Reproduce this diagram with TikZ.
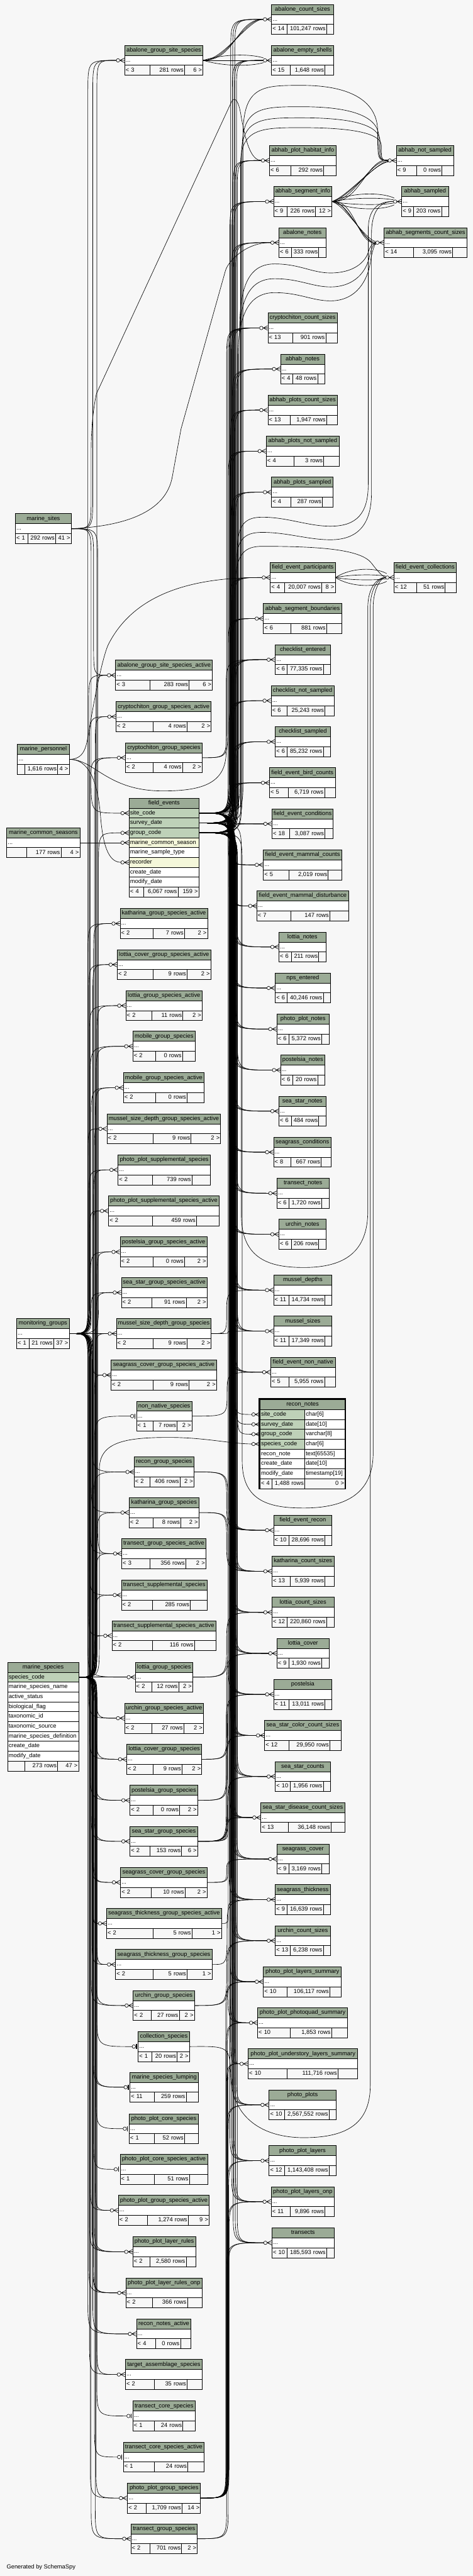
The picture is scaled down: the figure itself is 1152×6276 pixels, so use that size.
\documentclass[tikz,border=0pt]{standalone}
\usepackage{fontspec}
\setmainfont{Liberation Sans}
\usetikzlibrary{calc}
\definecolor{bgc}{HTML}{F7F7F7}
\definecolor{hdrc}{HTML}{9BAB96}
\definecolor{pkc}{HTML}{BED1B8}
\definecolor{idxc}{HTML}{F4F7DA}
\pgfdeclarelayer{bglayer}
\pgfdeclarelayer{edgelayer}
\pgfsetlayers{bglayer,edgelayer,main}
\newcommand\tfont{\fontsize{14.3pt}{17pt}\selectfont}
\tikzset{
  hdr/.style={draw=black, line width=1.2pt, fill=hdrc, minimum height=24.5pt, inner sep=0pt, anchor=north west, font=\tfont, text height=10.5pt, text depth=3.5pt},
  rowc/.style={draw=black, line width=1.2pt, fill=white, minimum height=24pt, inner xsep=2.5pt, inner ysep=0pt, anchor=north west, align=left, font=\tfont, text height=10.5pt, text depth=3.5pt},
  fcell/.style={draw=black, line width=1.2pt, fill=bgc, minimum height=24.5pt, inner xsep=2.5pt, inner ysep=0pt, anchor=north west, font=\tfont, text height=10.5pt, text depth=3.5pt},
  fkl/.style={draw=black, line width=1pt, shorten >=19.5pt},
  fklo/.style={draw=black, line width=1pt, shorten >=14pt},
  mk/.style={draw=black, line width=1pt},
}
\newcommand\tbl[5]{%
  \def\cid{#1}\def\cx{#2}\def\cy{#3}\def\cw{#4}%
  \pgfmathsetmacro\fy{#3+48.5}%
  \pgfmathsetmacro\tw{#4-5}%
  \node[hdr, minimum width=#4pt] (#1-h) at (#2,#3) {#5};
  \node[rowc, text width=\tw pt] (#1) at (#2,#3+24.5) {...};
}
\newcommand\tft[5]{%
  \pgfmathsetmacro\wa{#1-\cx-5}\pgfmathsetmacro\wb{#2-#1-5}\pgfmathsetmacro\wc{\cx+\cw-#2-5}%
  \node[fcell, text width=\wa pt, align=left] (\cid-f1) at (\cx,\fy) {#3};
  \node[fcell, text width=\wb pt, align=right] (\cid-f2) at (#1,\fy) {#4};
  \node[fcell, text width=\wc pt, align=right] (\cid-f3) at (#2,\fy) {#5};
}
\newcommand\colrow[6]{%
  \pgfmathsetmacro\tw{#4-5}%
  \node[rowc, fill=#5, text width=\tw pt] (#1) at (#2,#3) {#6};
}
\newcommand\fkey[4][fkl]{%
  \pgfmathsetmacro\chx{#4}%
  \draw[#1] let \p1=(#2), \p2=(#3),
     \n1={ifthenelse((\y2)>(\y1),1,-1)}, \n2={min(abs((\y2)-(\y1))/2,80)} in
     (\p1) .. controls (\chx pt,\y1) .. (\chx pt,{(\y1)+(\n1)*(\n2)})
     -- (\chx pt,{(\y2)-(\n1)*(\n2)}) .. controls (\chx pt,\y2) .. (\p2);%
}
\newcommand\crowmk[1]{%
  \draw[mk] ([xshift=-11pt]#1) -- ([yshift=5.5pt]#1) ([xshift=-11pt]#1) -- (#1) ([xshift=-11pt]#1) -- ([yshift=-5.5pt]#1);
  \draw[mk, fill=white] ([xshift=-15.5pt]#1) circle[radius=4.2pt];}
\newcommand\barmk[1]{%
  \draw[mk, line width=2pt] ([xshift=-3.5pt,yshift=-6pt]#1) -- ([xshift=-3.5pt,yshift=6pt]#1);
  \draw[mk, fill=white] ([xshift=-10pt]#1) circle[radius=4.2pt];}
\begin{document}
\begin{tikzpicture}[x=1pt,y=-1pt]
\useasboundingbox (0,0) rectangle (1152,6276);
\begin{pgfonlayer}{bglayer}\fill[bgc] (0,0) rectangle (1152,6276);\end{pgfonlayer}
% ---------- right column
\tbl{acs}{661}{10}{151}{abalone\_count\_sizes}\tft{699}{795}{< 14}{101,247 rows}{}
\tbl{aes}{661}{110}{151}{abalone\_empty\_shells}\tft{707}{791}{< 15}{1,648 rows}{}
\tbl{aphi}{656}{354}{162}{abhab\_plot\_habitat\_info}\tft{708}{788}{< 6}{292 rows}{}
\tbl{asi}{666}{454}{142}{abhab\_segment\_info}\tft{699}{768}{< 9}{226 rows}{12 >}
\tbl{an}{679}{554}{114}{abalone\_notes}\tft{709}{776}{< 6}{333 rows}{}
\tbl{ccs}{652}{762}{169}{cryptochiton\_count\_sizes}\tft{713}{793}{< 13}{901 rows}{}
\tbl{ahn}{683}{862}{107}{abhab\_notes}\tft{713}{773}{< 4}{48 rows}{}
\tbl{apcs}{652}{962}{169}{abhab\_plots\_count\_sizes}\tft{707}{795}{< 13}{1,947 rows}{}
\tbl{apns}{648}{1062}{178}{abhab\_plots\_not\_sampled}\tft{716}{788}{< 4}{3 rows}{}
\tbl{aps}{661}{1162}{150}{abhab\_plots\_sampled}\tft{708}{785}{< 4}{287 rows}{}
\tbl{fep}{658}{1370}{158}{field\_event\_participants}\tft{692}{783}{< 4}{20,007 rows}{8 >}
\tbl{asb}{641}{1470}{191}{abhab\_segment\_boundaries}\tft{708}{795}{< 6}{881 rows}{}
\tbl{ce}{670}{1570}{134}{checklist\_entered}\tft{699}{787}{< 6}{77,335 rows}{}
\tbl{cns}{660}{1670}{153}{checklist\_not\_sampled}\tft{699}{791}{< 6}{25,243 rows}{}
\tbl{cs}{670}{1770}{134}{checklist\_sampled}\tft{699}{787}{< 6}{85,232 rows}{}
\tbl{febc}{656}{1870}{160}{field\_event\_bird\_counts}\tft{702}{790}{< 5}{6,719 rows}{}
\tbl{fec}{662}{1970}{149}{field\_event\_conditions}\tft{705}{791}{< 18}{3,087 rows}{}
\tbl{femc}{641}{2070}{191}{field\_event\_mammal\_counts}\tft{703}{799}{< 5}{2,019 rows}{}
\tbl{femd}{625}{2170}{224}{field\_event\_mammal\_disturbance}\tft{708}{803}{< 7}{147 rows}{}
\tbl{ln}{679}{2270}{114}{lottia\_notes}\tft{709}{776}{< 6}{211 rows}{}
\tbl{npse}{670}{2370}{134}{nps\_entered}\tft{699}{787}{< 6}{40,246 rows}{}
\tbl{ppn}{674}{2470}{127}{photo\_plot\_notes}\tft{704}{783}{< 6}{5,372 rows}{}
\tbl{pn}{683}{2570}{108}{postelsia\_notes}\tft{713}{773}{< 6}{20 rows}{}
\tbl{ssn}{679}{2670}{114}{sea\_star\_notes}\tft{709}{776}{< 6}{484 rows}{}
\tbl{sgc}{666}{2770}{140}{seagrass\_conditions}\tft{708}{782}{< 8}{667 rows}{}
\tbl{tn}{674}{2870}{127}{transect\_notes}\tft{704}{783}{< 6}{1,720 rows}{}
\tbl{un}{679}{2970}{114}{urchin\_notes}\tft{709}{776}{< 6}{206 rows}{}
\tbl{md}{666}{3106}{142}{mussel\_depths}\tft{703}{791}{< 11}{14,734 rows}{}
\tbl{msz}{666}{3206}{142}{mussel\_sizes}\tft{703}{791}{< 11}{17,349 rows}{}
\tbl{fenn}{659}{3306}{157}{field\_event\_non\_native}\tft{703}{790}{< 5}{5,955 rows}{}
\tbl{fer}{666}{3691}{142}{field\_event\_recon}\tft{703}{791}{< 10}{28,696 rows}{}
\tbl{kcs}{662}{3791}{151}{katharina\_count\_sizes}\tft{707}{791}{< 13}{5,939 rows}{}
\tbl{lcs}{662}{3891}{151}{lottia\_count\_sizes}\tft{699}{795}{< 12}{220,860 rows}{}
\tbl{lc}{674}{3991}{127}{lottia\_cover}\tft{704}{783}{< 9}{1,930 rows}{}
\tbl{pst}{666}{4091}{142}{postelsia}\tft{703}{791}{< 11}{13,011 rows}{}
\tbl{sscc}{644}{4191}{186}{sea\_star\_color\_count\_sizes}\tft{703}{803}{< 12}{29,950 rows}{}
\tbl{ssc}{670}{4291}{134}{sea\_star\_counts}\tft{707}{787}{< 10}{1,956 rows}{}
\tbl{ssdc}{635}{4391}{204}{sea\_star\_disease\_count\_sizes}\tft{702}{806}{< 13}{36,148 rows}{}
\tbl{sgcv}{674}{4492}{127}{seagrass\_cover}\tft{703}{783}{< 9}{3,169 rows}{}
\tbl{sgt}{670}{4591}{134}{seagrass\_thickness}\tft{699}{787}{< 9}{16,639 rows}{}
\tbl{ucs}{670}{4691}{134}{urchin\_count\_sizes}\tft{707}{787}{< 13}{6,238 rows}{}
\tbl{ppls}{641}{4791}{190}{photo\_plot\_layers\_summary}\tft{698}{803}{< 10}{106,117 rows}{}
\tbl{pppq}{627}{4891}{219}{photo\_plot\_photoquad\_summary}\tft{706}{807}{< 10}{1,853 rows}{}
\tbl{ppul}{604}{4991}{267}{photo\_plot\_understory\_layers\_summary}\tft{699}{823}{< 10}{111,716 rows}{}
\tbl{pp}{655}{5091}{163}{photo\_plots}\tft{693}{801}{< 10}{2,567,552 rows}{}
\tbl{ppl}{655}{5227}{163}{photo\_plot\_layers}\tft{693}{801}{< 12}{1,143,408 rows}{}
\tbl{pplo}{660}{5327}{154}{photo\_plot\_layers\_onp}\tft{707}{791}{< 11}{9,896 rows}{}
\tbl{tr}{662}{5427}{151}{transects}\tft{699}{795}{< 10}{185,593 rows}{}
% ---------- far right
\tbl{ans}{965}{354}{139}{abhab\_not\_sampled}\tft{1015}{1076}{< 9}{0 rows}{}
\tbl{asmp}{978}{454}{114}{abhab\_sampled}\tft{1007}{1075}{< 9}{203 rows}{}
\tbl{ascs}{935}{554}{202}{abhab\_segments\_count\_sizes}\tft{1006}{1102}{< 14}{3,095 rows}{}
\tbl{fecl}{959}{1370}{152}{field\_event\_collections}\tft{1015}{1084}{< 12}{51 rows}{}
% ---------- middle column
\tbl{ags}{303}{110}{191}{abalone\_group\_site\_species}\tft{365}{449}{< 3}{281 rows}{6 >}
\tbl{agsa}{281}{1608}{236}{abalone\_group\_site\_species\_active}\tft{365}{460}{< 3}{283 rows}{6 >}
\tbl{cgsa}{282}{1709}{232}{cryptochiton\_group\_species\_active}\tft{372}{455}{< 2}{4 rows}{2 >}
\tbl{cgs}{305}{1809}{187}{cryptochiton\_group\_species}\tft{372}{444}{< 2}{4 rows}{2 >}
\tbl{kgsa}{292}{2213}{213}{katharina\_group\_species\_active}\tft{372}{449}{< 2}{7 rows}{2 >}
\tbl{lcgsa}{285}{2313}{228}{lottia\_cover\_group\_species\_active}\tft{373}{455}{< 2}{9 rows}{2 >}
\tbl{lgsa}{306}{2413}{186}{lottia\_group\_species\_active}\tft{370}{445}{< 2}{11 rows}{2 >}
\tbl{mgs}{323}{2512}{152}{mobile\_group\_species}\tft{378}{444}{< 2}{0 rows}{}
\tbl{mgsa}{300}{2613}{197}{mobile\_group\_species\_active}\tft{378}{455}{< 2}{0 rows}{}
\tbl{msdgsa}{260}{2713}{277}{mussel\_size\_depth\_group\_species\_active}\tft{372}{465}{< 2}{9 rows}{2 >}
\tbl{ppss}{287}{2813}{225}{photo\_plot\_supplemental\_species}\tft{371}{467}{< 2}{739 rows}{}
\tbl{ppssa}{264}{2913}{269}{photo\_plot\_supplemental\_species\_active}\tft{371}{478}{< 2}{459 rows}{}
\tbl{pgsa}{292}{3013}{212}{postelsia\_group\_species\_active}\tft{372}{449}{< 2}{0 rows}{2 >}
\tbl{ssgsa}{295}{3112}{209}{sea\_star\_group\_species\_active}\tft{370}{453}{< 2}{91 rows}{2 >}
\tbl{msdgs}{283}{3212}{231}{mussel\_size\_depth\_group\_species}\tft{372}{455}{< 2}{9 rows}{2 >}
\tbl{sgcgsa}{270}{3313}{257}{seagrass\_cover\_group\_species\_active}\tft{372}{460}{< 2}{9 rows}{2 >}
\tbl{nns}{332}{3413}{135}{non\_native\_species}\tft{373}{431}{< 1}{7 rows}{2 >}
\tbl{rgs}{326}{3549}{146}{recon\_group\_species}\tft{364}{438}{< 2}{406 rows}{2 >}
\tbl{kgs}{314}{3648}{170}{katharina\_group\_species}\tft{373}{440}{< 2}{8 rows}{2 >}
\tbl{tgsa}{296}{3748}{205}{transect\_group\_species\_active}\tft{364}{452}{< 3}{356 rows}{2 >}
\tbl{tss}{295}{3849}{209}{transect\_supplemental\_species}\tft{371}{463}{< 2}{285 rows}{}
\tbl{tssa}{272}{3948}{253}{transect\_supplemental\_species\_active}\tft{371}{473}{< 2}{116 rows}{}
\tbl{lgs}{329}{4049}{140}{lottia\_group\_species}\tft{370}{435}{< 2}{12 rows}{2 >}
\tbl{ugsa}{303}{4149}{192}{urchin\_group\_species\_active}\tft{370}{447}{< 2}{27 rows}{2 >}
\tbl{lcgs}{308}{4249}{183}{lottia\_cover\_group\_species}\tft{373}{443}{< 2}{9 rows}{2 >}
\tbl{pgs}{316}{4349}{165}{postelsia\_group\_species}\tft{372}{437}{< 2}{0 rows}{2 >}
\tbl{ssgs}{316}{4449}{165}{sea\_star\_group\_species}\tft{364}{442}{< 2}{153 rows}{6 >}
\tbl{sgcgs}{293}{4549}{211}{seagrass\_cover\_group\_species}\tft{368}{450}{< 2}{10 rows}{2 >}
\tbl{sgtgsa}{259}{4649}{280}{seagrass\_thickness\_group\_species\_active}\tft{372}{467}{< 2}{5 rows}{1 >}
\tbl{sgtgs}{281}{4749}{235}{seagrass\_thickness\_group\_species}\tft{372}{455}{< 2}{5 rows}{1 >}
\tbl{ugs}{324}{4849}{149}{urchin\_group\_species}\tft{368}{436}{< 2}{27 rows}{2 >}
\tbl{csp}{336}{4949}{125}{collection\_species}\tft{370}{431}{< 1}{20 rows}{2 >}
\tbl{msl}{316}{5048}{167}{marine\_species\_lumping}\tft{375}{453}{< 11}{259 rows}{}
\tbl{ppcs}{314}{5149}{169}{photo\_plot\_core\_species}\tft{375}{449}{< 1}{52 rows}{}
\tbl{ppcsa}{292}{5248}{213}{photo\_plot\_core\_species\_active}\tft{375}{461}{< 1}{51 rows}{}
\tbl{ppgsa}{288}{5348}{221}{photo\_plot\_group\_species\_active}\tft{359}{458}{< 2}{1,274 rows}{9 >}
\tbl{pplr}{323}{5449}{153}{photo\_plot\_layer\_rules}\tft{365}{453}{< 2}{2,580 rows}{}
\tbl{pplro}{306}{5549}{186}{photo\_plot\_layer\_rules\_onp}\tft{371}{456}{< 2}{366 rows}{}
\tbl{rna}{332}{5649}{133}{recon\_notes\_active}\tft{378}{439}{< 4}{0 rows}{}
\tbl{tas}{305}{5748}{187}{target\_assemblage\_species}\tft{375}{455}{< 2}{35 rows}{}
\tbl{tcs}{323}{5849}{152}{transect\_core\_species}\tft{375}{445}{< 1}{24 rows}{}
\tbl{tcsa}{300}{5949}{197}{transect\_core\_species\_active}\tft{375}{457}{< 1}{24 rows}{}
\tbl{ppgs}{310}{6049}{178}{photo\_plot\_group\_species}\tft{355}{443}{< 2}{1,709 rows}{14 >}
\tbl{tgs}{318}{6148}{162}{transect\_group\_species}\tft{365}{442}{< 2}{701 rows}{2 >}
% ---------- left column
\tbl{msite}{37}{1251}{136}{marine\_sites}\tft{67}{135}{< 1}{292 rows}{41 >}
\tbl{mper}{42}{1813}{126}{marine\_personnel}\tft{59}{140}{}{1,616 rows}{4 >}
\tbl{mcs}{16}{2016}{178}{marine\_common\_seasons}\tft{65}{148}{}{177 rows}{4 >}
\tbl{mg}{40}{3212}{128}{monitoring\_groups}\tft{70}{130}{< 1}{21 rows}{37 >}
% field_events
\node[hdr, minimum width=170pt] (fe-h) at (314,1944) {field\_events};
\colrow{fe-site}{314}{1968.5}{170}{pkc}{site\_code}
\colrow{fe-date}{314}{1992.5}{170}{pkc}{survey\_date}
\colrow{fe-group}{314}{2016.5}{170}{pkc}{group\_code}
\colrow{fe-season}{314}{2040.5}{170}{idxc}{marine\_common\_season}
\colrow{fe-type}{314}{2064.5}{170}{white}{marine\_sample\_type}
\colrow{fe-rec}{314}{2088.5}{170}{idxc}{recorder}
\colrow{fe-cdate}{314}{2112.5}{170}{white}{create\_date}
\colrow{fe-mdate}{314}{2136.5}{170}{white}{modify\_date}
\def\cid{fe}\def\cx{314}\def\cw{170}\def\fy{2160.5}
\tft{350}{433}{< 4}{6,067 rows}{159 >}
% marine_species
\node[hdr, minimum width=173pt] (ms-h) at (18,4049) {marine\_species};
\colrow{ms-code}{18}{4073.5}{173}{pkc}{species\_code}
\colrow{ms-name}{18}{4097.5}{173}{white}{marine\_species\_name}
\colrow{ms-active}{18}{4121.5}{173}{white}{active\_status}
\colrow{ms-bio}{18}{4145.5}{173}{white}{biological\_flag}
\colrow{ms-taxid}{18}{4169.5}{173}{white}{taxonomic\_id}
\colrow{ms-taxsrc}{18}{4193.5}{173}{white}{taxonomic\_source}
\colrow{ms-def}{18}{4217.5}{173}{white}{marine\_species\_definition}
\colrow{ms-cdate}{18}{4241.5}{173}{white}{create\_date}
\colrow{ms-mdate}{18}{4265.5}{173}{white}{modify\_date}
\def\cid{ms}\def\cx{18}\def\cw{173}\def\fy{4289.5}
\tft{60}{140}{}{273 rows}{47 >}
% recon_notes
\node[hdr, minimum width=207pt] (rn-h) at (633,3409) {recon\_notes};
\colrow{rn-site}{633}{3433.5}{109}{pkc}{site\_code}\colrow{rn-site-t}{742}{3433.5}{98}{white}{char[6]}
\colrow{rn-date}{633}{3457.5}{109}{pkc}{survey\_date}\colrow{rn-date-t}{742}{3457.5}{98}{white}{date[10]}
\colrow{rn-group}{633}{3481.5}{109}{pkc}{group\_code}\colrow{rn-group-t}{742}{3481.5}{98}{white}{varchar[8]}
\colrow{rn-species}{633}{3505.5}{109}{pkc}{species\_code}\colrow{rn-species-t}{742}{3505.5}{98}{white}{char[6]}
\colrow{rn-note}{633}{3529.5}{109}{white}{recon\_note}\colrow{rn-note-t}{742}{3529.5}{98}{white}{text[65535]}
\colrow{rn-cdate}{633}{3553.5}{109}{white}{create\_date}\colrow{rn-cdate-t}{742}{3553.5}{98}{white}{date[10]}
\colrow{rn-mdate}{633}{3577.5}{109}{white}{modify\_date}\colrow{rn-mdate-t}{742}{3577.5}{98}{white}{timestamp[19]}
\def\cid{rn}\def\cx{633}\def\cw{207}\def\fy{3601.5}
\tft{662}{742}{< 4}{1,488 rows}{0 >}
\draw[line width=3pt] (631.5,3407.5) rectangle (841.5,3627.5);
% ================= edges
\begin{pgfonlayer}{edgelayer}
\foreach \kid/\kx in {acs/562,aes/566,aphi/568,asi/560,an/564,ccs/558,ahn/566,apcs/562,apns/556,aps/564,fep/560,asb/556,ce/564,cns/558,cs/566,febc/560,fec/562,femc/556,femd/558,ln/566,npse/560,ppn/564,pn/568,ssn/562,sgc/558,tn/566,un/560,md/564,msz/568,fenn/562,fer/558,kcs/566,lcs/560,lc/564,pst/556,sscc/562,ssc/568,ssdc/560,sgcv/566,sgt/558,ucs/564,ppls/560,pppq/556,ppul/562,pp/566,ppl/560,pplo/564,tr/568}{%
  \fkey{fe-site.east}{\kid.west}{\kx}%
  \fkey{fe-date.east}{\kid.west}{\kx+5}%
  \fkey{fe-group.east}{\kid.west}{\kx+10}%
}
\fkey{fe-site.east}{rn-site.west}{570}
\fkey{fe-date.east}{rn-date.west}{574}
\fkey{fe-group.east}{rn-group.west}{578}
\foreach \kid/\kx in {ags/214,agsa/216,cgsa/218,cgs/220,kgsa/214,lcgsa/216,lgsa/218,mgs/220,mgsa/222,msdgsa/214,ppss/216,ppssa/218,pgsa/220,ssgsa/222,msdgs/224,sgcgsa/226,rgs/224,kgs/222,tgsa/220,tss/218,tssa/216,lgs/214,ugsa/216,lcgs/218,pgs/220,ssgs/222,sgcgs/224,sgtgsa/226,sgtgs/224,ugs/222,ppgsa/220,pplr/218,pplro/216,rna/214,tas/218,ppgs/220,tgs/222,fe-group/240}{%
  \fkey{mg.east}{\kid.west}{\kx}}
\foreach \kid/\kx in {ags/236,agsa/234,cgsa/232,cgs/230,kgsa/228,lcgsa/226,lgsa/236,mgs/234,mgsa/232,msdgsa/230,ppss/228,ppssa/226,pgsa/236,ssgsa/234,msdgs/232,sgcgsa/230,rgs/228,kgs/236,tgsa/234,tss/232,tssa/230,lgs/228,ugsa/236,lcgs/234,pgs/232,ssgs/230,sgcgs/228,sgtgsa/226,sgtgs/236,ugs/234,ppgsa/232,pplr/230,pplro/228,rna/226,tas/236,ppgs/234,tgs/232,pplr/224,pplro/226}{%
  \fkey{ms-code.east}{\kid.west}{\kx}}
\foreach \kid/\kx in {nns/230,csp/236,msl/232,msl/228,ppcs/234,ppcsa/228,tcs/236,tcsa/230}{%
  \fkey[fklo]{ms-code.east}{\kid.west}{\kx}}
\foreach \kid/\kx in {ags/226,agsa/228,tgsa/238,fe-site/222}{%
  \fkey{msite.east}{\kid.west}{\kx}}
\foreach \pa/\kid/\kx in {cgs/ccs/552,cgs/ccs/555,kgs/kcs/552,kgs/kcs/555,lgs/lcs/552,lgs/lcs/555,lcgs/lc/552,lcgs/lc/555,pgs/pst/551,pgs/pst/554,ssgs/sscc/551,ssgs/sscc/553,ssgs/ssc/554,ssgs/ssc/556,ssgs/ssdc/552,ssgs/ssdc/555,sgcgs/sgcv/552,sgcgs/sgcv/555,sgtgs/sgt/553,sgtgsa/sgt/556,ugs/ucs/552,ugs/ucs/555,ppgs/ppls/550,ppgs/ppls/553,ppgs/pppq/551,ppgs/pppq/554,ppgs/ppul/552,ppgs/ppul/555,ppgs/pp/553,ppgs/pp/556,ppgs/ppl/554,ppgs/ppl/557,ppgs/pplo/555,ppgs/pplo/558,tgs/tr/552,tgs/tr/556,msdgs/md/552,msdgs/msz/555,nns/fenn/553,rgs/fer/552,rgs/fer/555}{%
  \fkey{\pa.east}{\kid.west}{\kx}}
% abalone group site species
\draw[fkl] (ags.east) .. controls (560,146.5) and (590,46.5) .. (acs.west);
\draw[fkl] (ags.east) .. controls (545,146.5) and (605,46.5) .. (acs.west);
\draw[fkl] (ags.east) .. controls (575,146.5) and (575,46.5) .. (acs.west);
\draw[fkl] (ags.east) -- (aes.west);
\draw[fkl] (ags.east) .. controls (545,131) and (610,131) .. (aes.west);
\draw[fkl] (ags.east) .. controls (545,162) and (610,162) .. (aes.west);
% abhab segment info
\draw[fkl] (asi.east) .. controls (855,468) and (930,468) .. (asmp.west);
\draw[fkl] (asi.east) .. controls (855,481) and (930,481) .. (asmp.west);
\draw[fkl] (asi.east) .. controls (855,500) and (930,500) .. (asmp.west);
\draw[fkl] (asi.east) .. controls (855,513) and (930,513) .. (asmp.west);
\draw[fkl] (asi.east) .. controls (860,490.5) and (900,390.5) .. (ans.west);
\draw[fkl] (asi.east) .. controls (845,485) and (915,395) .. (ans.west);
\draw[fkl] (asi.east) .. controls (875,495) and (895,385) .. (ans.west);
\draw[fkl] (asi.east) .. controls (850,475) and (910,400) .. (ans.west);
\draw[fkl] (asi.east) .. controls (850,490.5) and (880,590.5) .. (ascs.west);
\draw[fkl] (asi.east) .. controls (840,500) and (890,585) .. (ascs.west);
\draw[fkl] (asi.east) .. controls (865,485) and (870,595) .. (ascs.west);
\draw[fkl] (asi.east) .. controls (835,480) and (895,600) .. (ascs.west);
% participants -> collections
\draw[fkl] (fep.east) .. controls (855,1382) and (915,1382) .. (fecl.west);
\draw[fkl] (fep.east) .. controls (855,1399) and (915,1399) .. (fecl.west);
\draw[fkl] (fep.east) .. controls (855,1414) and (915,1414) .. (fecl.west);
\draw[fkl] (fep.east) .. controls (855,1431) and (915,1431) .. (fecl.west);
% arcs over the top to abhab_not_sampled
\draw[fkl] (fe-site.east) .. controls (592,1980.5) .. (592,1900) -- (592,330) .. controls (592,208) and (640,208) .. (735,208) .. controls (860,208) and (920,250) .. (920,320) .. controls (920,390.5) .. (ans.west);
\draw[fkl] (fe-date.east) .. controls (590,2004.5) .. (590,1925) -- (590,360) .. controls (590,260) and (640,260) .. (735,260) .. controls (860,260) and (923,285) .. (923,335) .. controls (923,390.5) .. (ans.west);
\draw[fkl] (fe-group.east) .. controls (588,2028.5) .. (588,1950) -- (588,380) .. controls (588,287) and (640,287) .. (735,287) .. controls (860,287) and (926,305) .. (926,345) .. controls (926,390.5) .. (ans.west);
\draw[fkl] (fe-group.east) .. controls (586,2028.5) .. (586,1950) -- (586,400) .. controls (586,311) and (640,311) .. (735,311) .. controls (860,311) and (929,325) .. (929,355) .. controls (929,390.5) .. (ans.west);
% wavy curves to abhab_segments_count_sizes
\draw[fkl] (fe-site.east) .. controls (584,1980.5) .. (584,1900) -- (584,800) .. controls (584,690) and (610,643) .. (669,643) .. controls (730,643) and (760,665) .. (805,665) .. controls (860,665) and (890,640) .. (898,612) .. controls (903,596) and (912,590.5) .. (ascs.west);
\draw[fkl] (fe-date.east) .. controls (582,2004.5) .. (582,1925) -- (582,840) .. controls (582,725) and (610,679) .. (669,679) .. controls (730,679) and (760,699) .. (805,699) .. controls (865,699) and (893,660) .. (900,625) .. controls (905,600) and (914,590.5) .. (ascs.west);
\draw[fkl] (fe-group.east) .. controls (580,2028.5) .. (580,1950) -- (580,870) .. controls (580,760) and (610,713) .. (669,713) .. controls (730,713) and (760,733) .. (805,733) .. controls (870,733) and (896,680) .. (902,640) .. controls (907,605) and (916,590.5) .. (ascs.west);
% wavy curves to abhab_sampled
\draw[fkl] (fe-date.east) .. controls (578,2004.5) .. (578,1925) -- (578,1340) .. controls (578,1275) and (600,1260) .. (639,1260) .. controls (700,1260) and (750,1282) .. (805,1282) .. controls (870,1282) and (897,1250) .. (897,1180) -- (897,560) .. controls (897,510) and (920,490.5) .. (asmp.west);
\draw[fkl] (fe-group.east) .. controls (576,2028.5) .. (576,1950) -- (576,1370) .. controls (576,1310) and (600,1297) .. (639,1297) .. controls (700,1297) and (750,1315) .. (805,1315) .. controls (870,1315) and (905,1280) .. (905,1200) -- (905,570) .. controls (905,515) and (925,490.5) .. (asmp.west);
% field_event_collections
\draw[fkl] (fe-site.east) .. controls (574,1980.5) .. (574,1900) -- (574,1420) .. controls (574,1345) and (600,1331) .. (639,1331) .. controls (790,1331) and (880,1340) .. (905,1372) .. controls (922,1395) and (935,1406.5) .. (fecl.west);
\draw[fkl] (fe-date.east) .. controls (588,2004.5) .. (588,2085) -- (588,2960) .. controls (588,3070) and (660,3088) .. (740,3088) .. controls (840,3088) and (896,3050) .. (896,2950) -- (896,1480) .. controls (896,1430) and (920,1406.5) .. (fecl.west);
\draw[fkl] (fe-group.east) .. controls (590,2028.5) .. (590,2110) -- (590,3560) .. controls (590,3660) and (660,3674) .. (740,3674) .. controls (840,3674) and (909,3640) .. (909,3540) -- (909,1480) .. controls (909,1435) and (928,1406.5) .. (fecl.west);
\draw[fkl] (csp.east) .. controls (560,4985) .. (562,5060) .. controls (566,5160) and (640,5208) .. (740,5208) .. controls (850,5208) and (902,5170) .. (902,5080) -- (902,1480) .. controls (902,1432) and (924,1406.5) .. (fecl.west);
% marine_sites specials
\draw[fkl] (msite.east) .. controls (222,1287.5) .. (222,1210) -- (222,1100) .. controls (222,1040) and (228,990) .. (235,959) -- (563,250) .. controls (569,236) and (579,238) .. (586,275) .. controls (600,360) and (615,390.5) .. (aphi.west);
\draw[fkl] (msite.east) .. controls (300,1282) and (405,1250) .. (420,1160) -- (441,1045) -- (549,660) .. controls (556,635) and (600,590.5) .. (an.west);
% marine_personnel
\draw[fkl] (mper.east) .. controls (205,1849.5) and (210,1820) .. (215,1790) .. controls (230,1700) and (250,1600) .. (264,1570) .. controls (330,1440) and (480,1406.5) .. (fep.west);
\draw[fkl] (mper.east) .. controls (230,1849.5) and (260,1927) .. (397,1927) .. controls (500,1927) and (551,1905) .. (551,1830) -- (551,1680) .. controls (551,1606.5) .. (ce.west);
\draw[fkl] (mper.east) .. controls (215,1849.5) and (238,1900) .. (245,1990) .. controls (252,2075) and (270,2100.5) .. (fe-rec.west);
% seasons
\draw[fkl] (mcs.east) -- (fe-season.west);
% species -> recon_notes
\draw[fkl] (ms-code.east) .. controls (242,4085.5) .. (242,4000) -- (242,3580) .. controls (242,3515) and (300,3502) .. (411,3502) .. controls (500,3502) and (560,3517.5) .. (rn-species.west);
\end{pgfonlayer}
% ================= markers
\foreach \m in {acs,aes,aphi,asi,an,ccs,ahn,apcs,apns,aps,fep,asb,ce,cns,cs,febc,fec,femc,femd,ln,npse,ppn,pn,ssn,sgc,tn,un,md,msz,fenn,fer,kcs,lcs,lc,pst,sscc,ssc,ssdc,sgcv,sgt,ucs,ppls,pppq,ppul,pp,ppl,pplo,tr,ans,asmp,ascs,fecl,ags,agsa,cgsa,cgs,kgsa,lcgsa,lgsa,mgs,mgsa,msdgsa,ppss,ppssa,pgsa,ssgsa,msdgs,sgcgsa,rgs,kgs,tgsa,tss,tssa,lgs,ugsa,lcgs,pgs,ssgs,sgcgs,sgtgsa,sgtgs,ugs,ppgsa,pplr,pplro,rna,tas,ppgs,tgs,fe-site,fe-group,fe-season,fe-rec,rn-site,rn-date,rn-group,rn-species}{\crowmk{\m.west}}
\foreach \m in {nns,csp,msl,ppcs,ppcsa,tcs,tcsa}{\barmk{\m.west}}
\node[font=\tfont, anchor=west, inner sep=0pt] (gen) at (16,6255) {Generated by SchemaSpy};
\end{tikzpicture}
\end{document}
